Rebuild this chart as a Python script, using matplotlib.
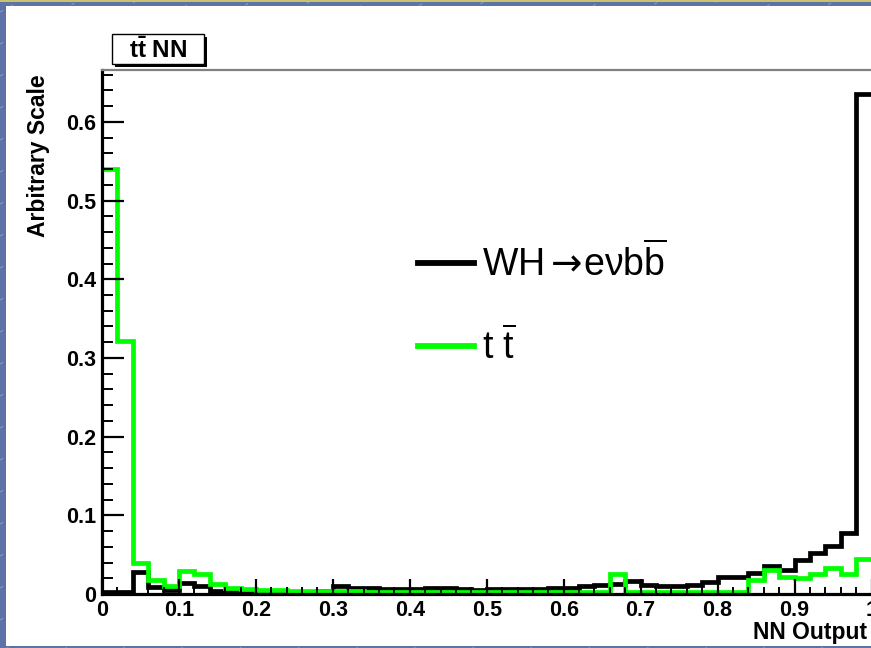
import numpy as np
import matplotlib
matplotlib.use("Agg")
import matplotlib.pyplot as plt
from matplotlib.lines import Line2D
from matplotlib.patches import Rectangle
from matplotlib.ticker import MultipleLocator, FuncFormatter

# NN output binning: 50 bins over [0, 1]
n_bins = 50
x_lo, x_hi = 0.0, 1.0

# WH -> e nu b bbar signal, normalised
wh_values = [
    0.002, 0.002, 0.028, 0.009, 0.005, 0.014, 0.010, 0.004, 0.003, 0.003,
    0.003, 0.003, 0.003, 0.003, 0.004, 0.010, 0.008, 0.007, 0.006, 0.006,
    0.006, 0.007, 0.007, 0.006, 0.005, 0.006, 0.006, 0.006, 0.006, 0.007,
    0.008, 0.010, 0.012, 0.013, 0.016, 0.011, 0.010, 0.010, 0.011, 0.015,
    0.021, 0.021, 0.027, 0.036, 0.030, 0.043, 0.052, 0.061, 0.077, 0.635,
]

# t tbar background, normalised
tt_values = [
    0.540, 0.322, 0.040, 0.018, 0.010, 0.029, 0.025, 0.013, 0.008, 0.006,
    0.005, 0.005, 0.004, 0.004, 0.004, 0.004, 0.004, 0.003, 0.003, 0.003,
    0.003, 0.003, 0.003, 0.002, 0.002, 0.002, 0.002, 0.002, 0.002, 0.002,
    0.002, 0.002, 0.002, 0.025, 0.003, 0.003, 0.003, 0.003, 0.003, 0.003,
    0.003, 0.003, 0.018, 0.030, 0.022, 0.020, 0.025, 0.033, 0.025, 0.045,
]

W, H = 871, 648


def fx(px):
    return px / W


def fy(py):
    return 1 - py / H


def main() -> None:
    plt.rcParams['font.family'] = ['Liberation Sans', 'DejaVu Sans']
    plt.rcParams['mathtext.fontset'] = 'custom'
    plt.rcParams['mathtext.rm'] = 'Liberation Sans'
    plt.rcParams['mathtext.bf'] = 'Liberation Sans:bold'
    plt.rcParams['mathtext.it'] = 'Liberation Sans:italic'
    plt.rcParams['mathtext.sf'] = 'DejaVu Sans'

    fig = plt.figure(figsize=(W / 100, H / 100), dpi=100)
    fig.patch.set_facecolor('#5e72a8')

    # faint diagonal dashes on the slide border
    for c in np.arange(-900, 900, 32):
        fig.add_artist(Line2D([fx(0), fx(W)], [fy(H - c), fy(H - c - W * 0.55)],
                              transform=fig.transFigure, color='white', alpha=0.35,
                              lw=0.6, ls=(0, (4, 10)), zorder=-3))
    fig.add_artist(Rectangle((0, fy(1.5)), 1, 1.5 / H, transform=fig.transFigure,
                             facecolor='#c9c46c', edgecolor='none', zorder=-2))
    # white canvas
    fig.add_artist(Rectangle((fx(6), fy(646)), 1 - fx(6), (646 - 6) / H,
                             transform=fig.transFigure, facecolor='white',
                             edgecolor='none', zorder=-1))

    ax = fig.add_axes([fx(102), fy(594), (871.5 - 102) / W, (594 - 70) / H])
    edges = np.linspace(x_lo, x_hi, n_bins + 1)

    ax.stairs(wh_values, edges, baseline=None, color='black', lw=3.4,
              label='WH$\\mathsf{\\rightarrow}\\!$eνb$\\overline{\\mathrm{b}}$')
    ax.stairs(tt_values, edges, baseline=None, color='#00ff00', lw=3.4,
              label='t $\\overline{\\mathrm{t}}$')

    ax.set_xlim(0, 1)
    ax.set_ylim(0, 0.666)

    fmt = FuncFormatter(lambda v, pos: f'{v:g}')
    ax.xaxis.set_major_locator(MultipleLocator(0.1))
    ax.xaxis.set_minor_locator(MultipleLocator(0.02))
    ax.yaxis.set_major_locator(MultipleLocator(0.1))
    ax.yaxis.set_minor_locator(MultipleLocator(0.02))
    ax.xaxis.set_major_formatter(fmt)
    ax.yaxis.set_major_formatter(fmt)

    ax.xaxis.set_tick_params(which='major', direction='in', length=11, width=1.6, pad=4)
    ax.xaxis.set_tick_params(which='minor', direction='in', length=5, width=1.4)
    ax.yaxis.set_tick_params(which='major', direction='in', length=16, width=1.6, pad=4)
    ax.yaxis.set_tick_params(which='minor', direction='in', length=8, width=1.4)
    for lbl in ax.get_xticklabels() + ax.get_yticklabels():
        lbl.set_fontsize(15.5)
        lbl.set_fontweight('bold')

    ax.spines['left'].set_linewidth(2.3)
    ax.spines['bottom'].set_linewidth(2.3)
    ax.spines['top'].set_color('#808080')
    ax.spines['top'].set_linewidth(1.6)
    ax.spines['right'].set_visible(False)

    fig.text(fx(867), fy(632), 'NN Output', ha='right', va='center',
             fontsize=16.5, fontweight='bold')
    fig.text(fx(38), fy(74), 'Arbitrary Scale', ha='center', va='top',
             rotation=90, fontsize=16.5, fontweight='bold')

    # title box with shadow
    fig.add_artist(Rectangle((fx(115), fy(67)), (207 - 115) / W, (67 - 37) / H,
                             transform=fig.transFigure, facecolor='black',
                             edgecolor='none', zorder=3))
    fig.add_artist(Rectangle((fx(112), fy(64)), (204 - 112) / W, (64 - 34) / H,
                             transform=fig.transFigure, facecolor='white',
                             edgecolor='black', lw=1.0, zorder=4))
    fig.text(fx(158), fy(50), r'$\mathbf{t\bar{t}}$ NN', ha='center', va='center',
             fontsize=17.5, fontweight='bold', zorder=5)

    leg = ax.legend(loc='upper left', bbox_to_anchor=(fx(418), fy(243)),
                    bbox_transform=fig.transFigure, frameon=False, fontsize=27,
                    handlelength=1.5, handletextpad=0.2, labelspacing=1.15,
                    borderpad=0, borderaxespad=0)
    for h in leg.legend_handles:
        h.set_linewidth(4.2)

    fig.savefig('out.png', dpi=100, facecolor=fig.get_facecolor())
    plt.close(fig)


if __name__ == "__main__":
    main()
